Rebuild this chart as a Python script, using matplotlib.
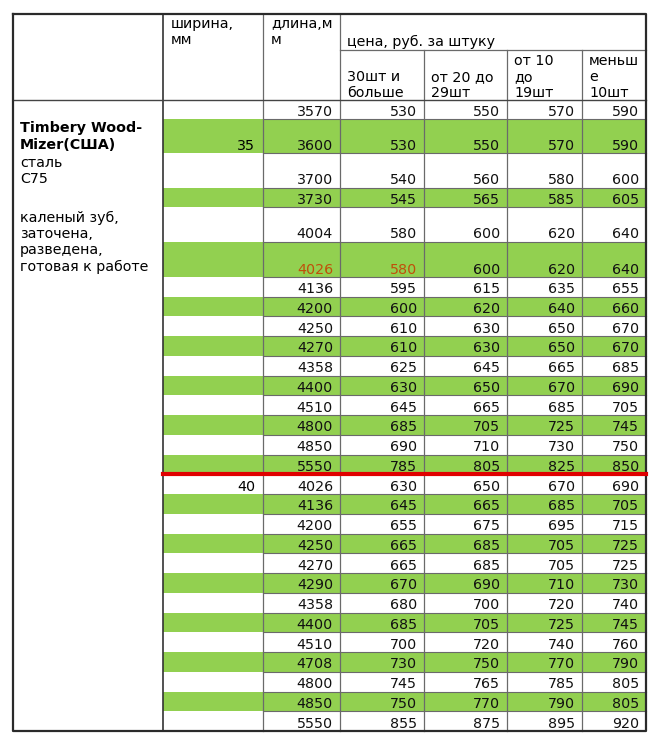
import matplotlib.pyplot as plt

# table data
lengths = [3570, 3600, 3700, 3730, 4004, 4026, 4136, 4200, 4250, 4270, 4358, 4400, 4510, 4800, 4850, 5550,
           4026, 4136, 4200, 4250, 4270, 4290, 4358, 4400, 4510, 4708, 4800, 4850, 5550]
price_30 = [530, 530, 540, 545, 580, 580, 595, 600, 610, 610, 625, 630, 645, 685, 690, 785,
            630, 645, 655, 665, 665, 670, 680, 685, 700, 730, 745, 750, 855]
price_20 = [550, 550, 560, 565, 600, 600, 615, 620, 630, 630, 645, 650, 665, 705, 710, 805,
            650, 665, 675, 685, 685, 690, 700, 705, 720, 750, 765, 770, 875]
price_10 = [570, 570, 580, 585, 620, 620, 635, 640, 650, 650, 665, 670, 685, 725, 730, 825,
            670, 685, 695, 705, 705, 710, 720, 725, 740, 770, 785, 790, 895]
price_lt10 = [590, 590, 600, 605, 640, 640, 655, 660, 670, 670, 685, 690, 705, 745, 750, 850,
              690, 705, 715, 725, 725, 730, 740, 745, 760, 790, 805, 805, 920]
widths = {1: "35", 16: "40"}
highlight = [(5, 0), (5, 1)]  # (row, column among length/prices)
group_break = 16

header_cols = ["ширина,\nмм", "длина,м\nм"]
price_title = "цена, руб. за штуку"
price_cols = ["30шт и\nбольше", "от 20 до\n29шт", "от 10\nдо\n19шт", "меньш\nе\n10шт"]
desc_bold = "Timbery Wood-\nMizer(США)"
desc_steel = "сталь\nС75"
desc_text = "каленый зуб,\nзаточена,\nразведена,\nготовая к работе"

# layout (pixels)
xs = [13, 163, 263, 340, 424, 507, 582, 646]
top, mid, head_bot = 14, 50, 100
row_h = [19, 34, 35, 19, 35, 35] + [19.74] * 23

GREEN = "#92d050"
LINE = "#6a6a6a"
FS = 10.3

fig = plt.figure(figsize=(6.65, 7.51), dpi=100)
ax = fig.add_axes([0, 0, 1, 1])
ax.set_xlim(0, 665)
ax.set_ylim(751, 0)
ax.axis("off")

ys = [head_bot]
for h in row_h:
    ys.append(ys[-1] + h)
bottom = ys[-1]

columns = [lengths, price_30, price_20, price_10, price_lt10]
for i in range(len(lengths)):
    y0, y1 = ys[i], ys[i + 1]
    if i % 2 == 1:
        ax.fill_between([xs[1], xs[-1]], y0, y1, color=GREEN, lw=0, zorder=1)
    if i in widths:
        ax.text(xs[2] - 8, y1 - 3.5, widths[i], ha="right", va="baseline", fontsize=FS, zorder=3)
    for j, col in enumerate(columns):
        color = "#c0500a" if (i, j) in highlight else "#111111"
        ax.text(xs[j + 3] - 7, y1 - 3.5, str(col[i]), ha="right", va="baseline",
                fontsize=FS, color=color, zorder=3)
    if 0 < i:
        ax.plot([xs[2], xs[-1]], [y0, y0], color=LINE, lw=0.8, zorder=2)

# grid lines
for x in xs[2:4]:
    ax.plot([x, x], [top, bottom], color=LINE, lw=0.9, zorder=2)
for x in xs[4:7]:
    ax.plot([x, x], [mid, bottom], color=LINE, lw=0.9, zorder=2)
ax.plot([xs[1], xs[1]], [top, bottom], color="#333333", lw=1.2, zorder=2)
ax.plot([xs[3], xs[-1]], [mid, mid], color=LINE, lw=0.9, zorder=2)
ax.plot([xs[0], xs[-1]], [head_bot, head_bot], color="#444444", lw=1.0, zorder=2)
ax.plot([xs[0], xs[-1], xs[-1], xs[0], xs[0]], [top, top, bottom, bottom, top],
        color="#2a2a2a", lw=1.6, zorder=4)
ax.plot([xs[1], xs[-1]], [ys[group_break]] * 2, color="#e00000", lw=3, zorder=5)

# headers
ax.text(xs[1] + 8, 17, header_cols[0], ha="left", va="top", fontsize=FS, linespacing=1.2)
ax.text(xs[2] + 8, 17, header_cols[1], ha="left", va="top", fontsize=FS, linespacing=1.2)
ax.text(xs[3] + 7, 46, price_title, ha="left", va="baseline", fontsize=FS)
for k, label in enumerate(price_cols):
    ax.text(xs[3 + k] + 7, 97, label, ha="left", va="baseline", fontsize=FS, linespacing=1.2)

# description
ax.text(xs[0] + 7, 121, desc_bold, ha="left", va="top", fontsize=FS, fontweight="bold", linespacing=1.25)
ax.text(xs[0] + 7, 156, desc_steel, ha="left", va="top", fontsize=FS, linespacing=1.2)
ax.text(xs[0] + 7, 211, desc_text, ha="left", va="top", fontsize=FS, linespacing=1.2)

fig.savefig("out.png", dpi=100)
